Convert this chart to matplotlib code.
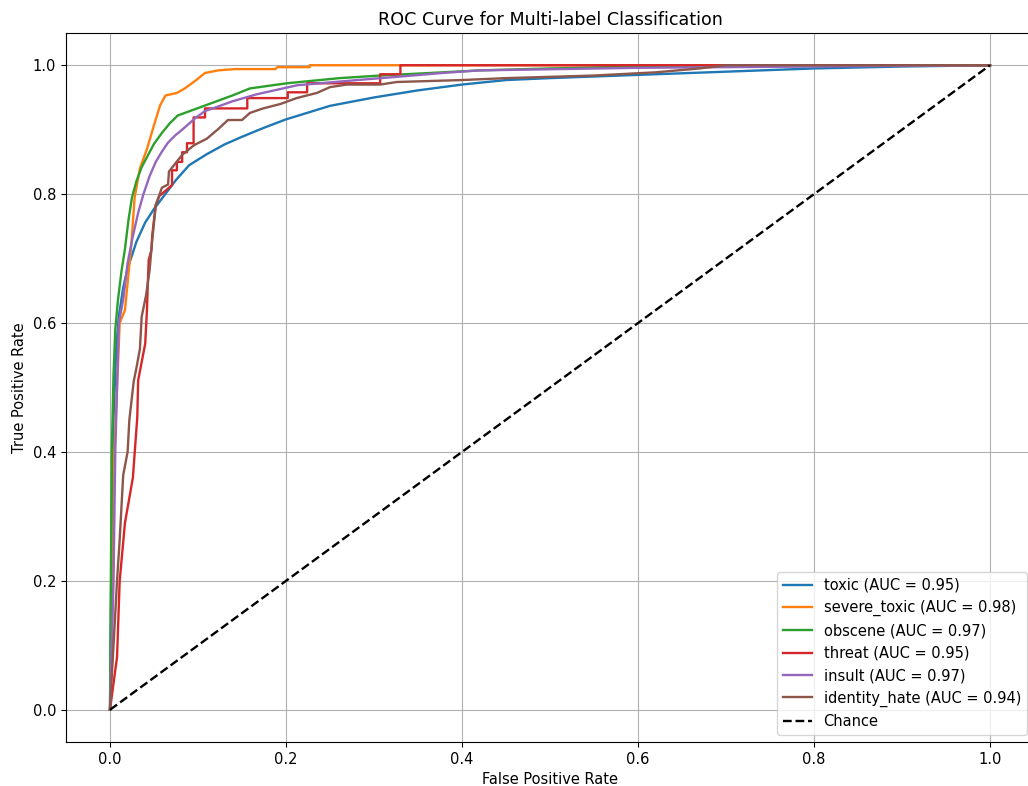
import matplotlib
matplotlib.use("Agg")
import matplotlib.pyplot as plt

# ROC points
labels = ['toxic', 'severe_toxic', 'obscene', 'threat', 'insult', 'identity_hate']
aucs = [0.95, 0.98, 0.97, 0.95, 0.97, 0.94]

toxic_fpr = [0.0, 0.002, 0.004, 0.007, 0.010, 0.015, 0.020, 0.025, 0.030, 0.040, 0.050, 0.060,
             0.075, 0.090, 0.110, 0.130, 0.150, 0.175, 0.200, 0.250, 0.300, 0.350, 0.400,
             0.450, 0.500, 0.600, 0.700, 0.800, 0.900, 1.0]
toxic_tpr = [0.0, 0.30, 0.45, 0.56, 0.61, 0.655, 0.685, 0.705, 0.726, 0.756, 0.777, 0.795,
             0.822, 0.845, 0.862, 0.877, 0.889, 0.903, 0.916, 0.937, 0.950, 0.961, 0.970,
             0.977, 0.980, 0.985, 0.990, 0.995, 0.998, 1.0]

severe_fpr = [0.0, 0.003, 0.005, 0.011, 0.017, 0.024, 0.028, 0.034, 0.042, 0.050, 0.057, 0.063,
              0.076, 0.085, 0.097, 0.108, 0.123, 0.142, 0.188, 0.190, 0.227, 0.227, 1.0]
severe_tpr = [0.0, 0.2, 0.4, 0.6, 0.62, 0.718, 0.795, 0.84, 0.87, 0.907, 0.938, 0.953,
              0.957, 0.964, 0.976, 0.988, 0.992, 0.994, 0.994, 0.997, 0.997, 1.0, 1.0]

obscene_fpr = [0.0, 0.001, 0.002, 0.004, 0.006, 0.009, 0.013, 0.017, 0.021, 0.025, 0.030, 0.036,
               0.043, 0.050, 0.059, 0.068, 0.077, 0.097, 0.119, 0.139, 0.159, 0.201, 0.261,
               0.307, 0.364, 0.420, 0.500, 0.600, 0.700, 1.0]
obscene_tpr = [0.0, 0.2, 0.4, 0.52, 0.59, 0.635, 0.68, 0.715, 0.760, 0.795, 0.82, 0.842,
               0.86, 0.878, 0.895, 0.910, 0.922, 0.932, 0.943, 0.953, 0.964, 0.972, 0.980,
               0.984, 0.988, 0.992, 0.995, 0.998, 0.999, 1.0]

threat_fpr = [0.0, 0.008, 0.011, 0.017, 0.026, 0.031, 0.032, 0.040, 0.042, 0.043, 0.044, 0.047,
              0.048, 0.050, 0.052, 0.056, 0.0705, 0.0705, 0.076, 0.076, 0.082, 0.082, 0.0875,
              0.0875, 0.095, 0.095, 0.108, 0.108, 0.156, 0.156, 0.202, 0.202, 0.224, 0.224,
              0.307, 0.307, 0.330, 0.330, 1.0]
threat_tpr = [0.0, 0.082, 0.2, 0.29, 0.36, 0.454, 0.511, 0.568, 0.62, 0.662, 0.698, 0.713,
              0.736, 0.76, 0.783, 0.797, 0.814, 0.837, 0.837, 0.850, 0.850, 0.865, 0.865,
              0.879, 0.879, 0.919, 0.919, 0.933, 0.933, 0.949, 0.949, 0.958, 0.958, 0.972,
              0.972, 0.986, 0.986, 1.0, 1.0]

insult_fpr = [0.0, 0.004, 0.006, 0.010, 0.015, 0.020, 0.026, 0.032, 0.038, 0.045, 0.052, 0.059,
              0.066, 0.074, 0.082, 0.097, 0.108, 0.123, 0.139, 0.167, 0.213, 0.281, 0.326,
              0.378, 0.420, 0.600, 0.900, 1.0]
insult_tpr = [0.0, 0.2, 0.4, 0.6, 0.636, 0.693, 0.735, 0.771, 0.800, 0.828, 0.85, 0.866,
              0.88, 0.891, 0.90, 0.918, 0.929, 0.936, 0.944, 0.955, 0.969, 0.977, 0.982,
              0.988, 0.992, 0.996, 0.999, 1.0]

identity_fpr = [0.0, 0.008, 0.011, 0.015, 0.020, 0.022, 0.027, 0.030, 0.034, 0.036, 0.041, 0.045,
                0.048, 0.052, 0.059, 0.066, 0.067, 0.082, 0.0955, 0.110, 0.123, 0.134, 0.150,
                0.159, 0.174, 0.194, 0.212, 0.235, 0.250, 0.269, 0.307, 0.326, 0.400, 0.450,
                0.550, 0.620, 0.670, 0.700, 1.0]
identity_tpr = [0.0, 0.2, 0.264, 0.364, 0.40, 0.45, 0.51, 0.53, 0.56, 0.61, 0.643, 0.682,
                0.729, 0.783, 0.81, 0.815, 0.835, 0.861, 0.876, 0.886, 0.901, 0.915, 0.915,
                0.926, 0.933, 0.94, 0.949, 0.957, 0.966, 0.97, 0.97, 0.974, 0.977, 0.98,
                0.984, 0.989, 0.995, 1.0, 1.0]

fprs = [toxic_fpr, severe_fpr, obscene_fpr, threat_fpr, insult_fpr, identity_fpr]
tprs = [toxic_tpr, severe_tpr, obscene_tpr, threat_tpr, insult_tpr, identity_tpr]

plt.rcParams['font.size'] = 10.5

fig = plt.figure(figsize=(10.28, 7.86), dpi=100)
# axes runs slightly past the right edge, as in the reference crop
ax = fig.add_axes([66 / 1028, 44 / 786, 968 / 1028, 709 / 786])

for name, auc, fpr, tpr in zip(labels, aucs, fprs, tprs):
    ax.plot(fpr, tpr, lw=1.7, label=f'{name} (AUC = {auc:.2f})')

ax.plot([0, 1], [0, 1], 'k--', lw=1.7, label='Chance')
ax.set_xlabel('False Positive Rate')
ax.set_ylabel('True Positive Rate')
ax.set_title('ROC Curve for Multi-label Classification', fontsize=12.6)
ax.legend(loc='lower right')
ax.grid(True)

fig.savefig('out.png', dpi=100)
